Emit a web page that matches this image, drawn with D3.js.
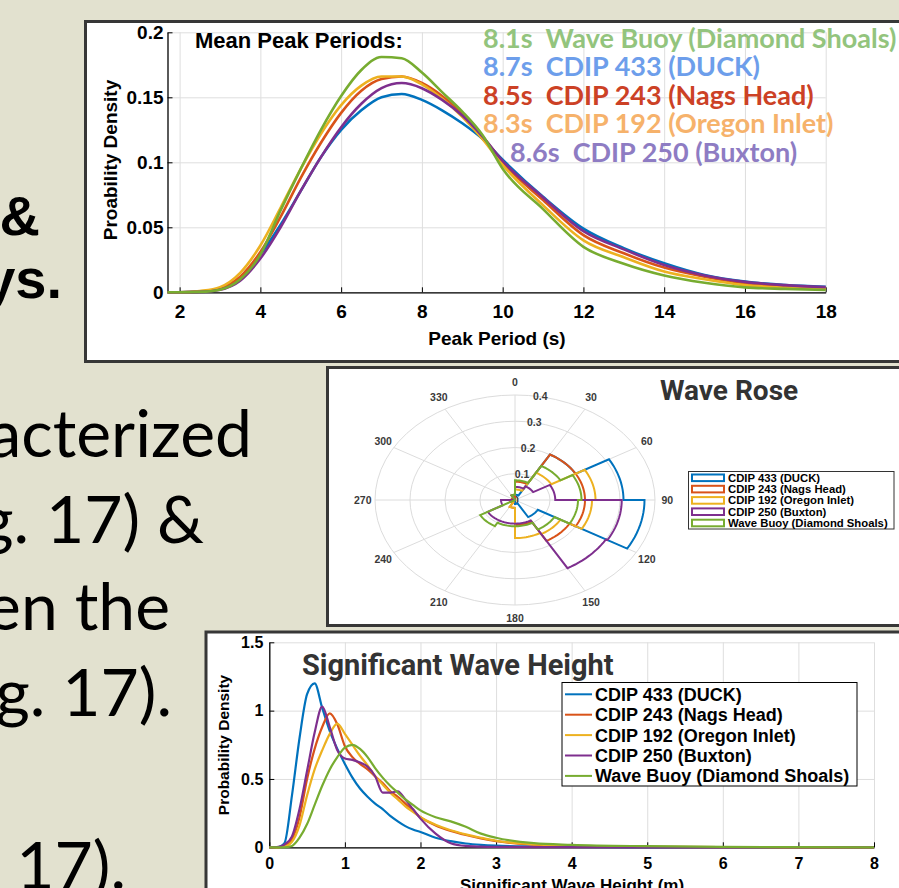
<!DOCTYPE html>
<html lang="en">
<head>
<meta charset="UTF-8">
<title>Peak Period, Wave Rose and Significant Wave Height</title>
<script src="https://d3js.org/d3.v7.min.js"></script>
<style>
  body { margin: 0; background: #e2e1cf; }
  svg { display: block; }
  text { font-family: "Liberation Sans", Arial, sans-serif; }
</style>
</head>
<body>
<svg width="899" height="888"></svg>
<script>
// ---------- data ----------
const stationNames = ["CDIP 433 (DUCK)", "CDIP 243 (Nags Head)", "CDIP 192 (Oregon Inlet)", "CDIP 250 (Buxton)", "Wave Buoy (Diamond Shoals)"];
const lineColors = ["#0072BD", "#D95319", "#EDB120", "#7E2F8E", "#77AC30"];

// peak period pdf (top chart)
const periodX      = [1.7, 2, 2.5, 3, 3.5, 4, 4.5, 5, 5.5, 6, 6.5, 7, 7.5, 8, 8.5, 9, 9.5, 10, 11, 12, 13, 14, 15, 16, 17, 18];
const periodDuck   = [0, 0, 0.0005, 0.003, 0.010, 0.029, 0.052, 0.078, 0.104, 0.125, 0.140, 0.150, 0.1525, 0.148, 0.140, 0.130, 0.118, 0.102, 0.0735, 0.049, 0.034, 0.0223, 0.0133, 0.0082, 0.0056, 0.0043];
const periodNags   = [0, 0, 0.0005, 0.003, 0.012, 0.031, 0.058, 0.088, 0.115, 0.138, 0.155, 0.164, 0.166, 0.161, 0.151, 0.137, 0.120, 0.100, 0.071, 0.044, 0.030, 0.019, 0.012, 0.007, 0.0045, 0.003];
const periodOregon = [0, 0, 0.001, 0.004, 0.015, 0.036, 0.065, 0.095, 0.122, 0.144, 0.159, 0.166, 0.166, 0.160, 0.149, 0.135, 0.118, 0.098, 0.067, 0.040, 0.027, 0.016, 0.010, 0.0055, 0.0035, 0.0025];
const periodBuxton = [0, 0, 0.0003, 0.002, 0.009, 0.026, 0.050, 0.078, 0.104, 0.127, 0.145, 0.157, 0.161, 0.157, 0.148, 0.136, 0.120, 0.101, 0.073, 0.047, 0.033, 0.021, 0.013, 0.008, 0.0055, 0.004];
const periodBuoy   = [0, 0, 0.0003, 0.002, 0.010, 0.029, 0.063, 0.095, 0.125, 0.151, 0.171, 0.181, 0.180, 0.169, 0.154, 0.139, 0.121, 0.095, 0.064, 0.035, 0.022, 0.013, 0.0074, 0.0038, 0.0026, 0.0018];
const periodTicksX = [2, 4, 6, 8, 10, 12, 14, 16, 18];
const periodTicksY = [0, 0.05, 0.1, 0.15, 0.2];

// mean peak period notes
const meanLabels = ["8.1s  Wave Buoy (Diamond Shoals)", "8.7s  CDIP 433 (DUCK)", "8.5s  CDIP 243 (Nags Head)", "8.3s  CDIP 192 (Oregon Inlet)", "8.6s  CDIP 250 (Buxton)"];
const meanColors = ["#93c47d", "#6d9eeb", "#cc4125", "#f6b26b", "#8e7cc3"];

// wave rose, 30 degree bins starting at 0
const roseBins   = [0, 30, 60, 90, 120, 150, 180, 210, 240, 270, 300, 330];
const roseDuck   = [0.02, 0.20, 0.31, 0.37, 0.075, 0.015, 0.005, 0.004, 0.003, 0.003, 0.003, 0.005];
const roseNags   = [0.07, 0.20, 0.20, 0.20, 0.18, 0.095, 0.03, 0.01, 0.015, 0.01, 0.005, 0.01];
const roseOregon = [0.04, 0.12, 0.23, 0.22, 0.15, 0.145, 0.03, 0.01, 0.005, 0.005, 0.005, 0.02];
const roseBuxton = [0.05, 0.06, 0.115, 0.305, 0.30, 0.09, 0.09, 0.09, 0.04, 0.005, 0.005, 0.02];
const roseBuoy   = [0.075, 0.15, 0.19, 0.18, 0.13, 0.10, 0.10, 0.115, 0, 0, 0, 0.02];
const roseRings  = [0.1, 0.2, 0.3, 0.4];

// significant wave height pdf (bottom chart)
const hsX      = [0, 0.1, 0.2, 0.3, 0.4, 0.5, 0.6, 0.7, 0.8, 0.9, 1.0, 1.1, 1.2, 1.3, 1.4, 1.5, 1.6, 1.7, 1.8, 1.9, 2.0, 2.2, 2.4, 2.6, 2.8, 3.0, 3.5, 4, 5, 6, 7, 8];
const hsDuck   = [0, 0, 0.03, 0.38, 0.80, 1.12, 1.20, 1.02, 0.85, 0.72, 0.61, 0.51, 0.43, 0.37, 0.32, 0.28, 0.23, 0.19, 0.155, 0.13, 0.112, 0.07, 0.045, 0.028, 0.018, 0.012, 0.006, 0.003, 0.001, 0, 0, 0];
const hsNags   = [0, 0, 0.01, 0.06, 0.22, 0.50, 0.72, 0.88, 0.98, 0.90, 0.74, 0.66, 0.61, 0.57, 0.52, 0.47, 0.41, 0.37, 0.32, 0.27, 0.22, 0.16, 0.12, 0.09, 0.065, 0.045, 0.02, 0.01, 0.003, 0.001, 0, 0];
const hsOregon = [0, 0, 0.005, 0.04, 0.16, 0.38, 0.57, 0.71, 0.83, 0.905, 0.83, 0.75, 0.67, 0.60, 0.52, 0.46, 0.40, 0.35, 0.30, 0.26, 0.22, 0.165, 0.125, 0.095, 0.07, 0.048, 0.022, 0.011, 0.003, 0.001, 0, 0];
const hsBuxton = [0, 0.002, 0.02, 0.08, 0.28, 0.56, 0.84, 1.03, 0.88, 0.71, 0.65, 0.64, 0.62, 0.59, 0.52, 0.40, 0.40, 0.41, 0.35, 0.28, 0.21, 0.10, 0.03, 0.01, 0.005, 0.003, 0.002, 0.001, 0, 0, 0, 0];
const hsBuoy   = [0, 0, 0, 0.01, 0.07, 0.17, 0.31, 0.45, 0.57, 0.66, 0.73, 0.75, 0.72, 0.66, 0.58, 0.51, 0.45, 0.40, 0.35, 0.31, 0.27, 0.22, 0.19, 0.15, 0.10, 0.07, 0.03, 0.018, 0.008, 0.003, 0.001, 0];
const hsTicksX = [0, 1, 2, 3, 4, 5, 6, 7, 8];
const hsTicksY = [0, 0.5, 1, 1.5];

const svg = d3.select("svg");
svg.append("rect").attr("width", 899).attr("height", 888).attr("fill", "#e2e1cf");

// ---------- slide text on the left (cut off) ----------
const boldLines = [["&", 40, 235], ["ys.", 62, 298]];
svg.selectAll(".boldline").data(boldLines).enter().append("text")
  .attr("x", d => d[1]).attr("y", d => d[2])
  .attr("text-anchor", "end")
  .style("font-size", "56px").style("font-weight", "bold")
  .text(d => d[0]);

const bodyLines = [["acterized", 252, 457], ["g. 17) &", 204, 543], ["en the", 170, 630], ["g. 17).", 172, 716], ["17).", 126, 889]];
svg.selectAll(".bodyline").data(bodyLines).enter().append("text")
  .attr("x", d => d[1]).attr("y", d => d[2])
  .attr("text-anchor", "end")
  .style("font-family", "Lato, 'Open Sans', sans-serif")
  .style("font-size", "66px")
  .text(d => d[0]);

// panel helper
function panel(x, y, w, h) {
  svg.append("rect").attr("x", x).attr("y", y).attr("width", w).attr("height", h)
    .attr("fill", "white").attr("stroke", "#373737").attr("stroke-width", 3);
}

// grid + inward axes for the two line charts
function drawAxes(g, x, y, tx, ty, fs, padX, padY) {
  const [x0, x1] = x.range();
  const [y0, y1] = y.range();
  g.append("g").attr("transform", `translate(0,${y0})`)
    .call(d3.axisBottom(x).tickValues(tx).tickSize(-(y0 - y1)).tickFormat(""))
    .call(a => a.select(".domain").remove())
    .selectAll("line").attr("stroke", "#dedede");
  g.append("g").attr("transform", `translate(${x0},0)`)
    .call(d3.axisLeft(y).tickValues(ty).tickSize(-(x1 - x0)).tickFormat(""))
    .call(a => a.select(".domain").remove())
    .selectAll("line").attr("stroke", "#dedede");

  const bx = g.append("g").attr("transform", `translate(0,${y0})`)
    .call(d3.axisBottom(x).tickValues(tx).tickSize(-5).tickSizeOuter(0).tickPadding(padX).tickFormat(d => String(d)));
  const by = g.append("g").attr("transform", `translate(${x0},0)`)
    .call(d3.axisLeft(y).tickValues(ty).tickSize(-5).tickSizeOuter(0).tickPadding(padY).tickFormat(d => String(d)));
  [bx, by].forEach(a => {
    a.select(".domain").attr("stroke", "#000").attr("stroke-width", 1.3);
    a.selectAll("text").attr("fill", "#000")
      .style("font-size", fs + "px").style("font-weight", "bold")
      .style("font-family", "'Liberation Sans', Arial, sans-serif");
  });
}

// ---------- top: peak period ----------
panel(85.5, 21.5, 900, 340);
const gTop = svg.append("g");
const xP = d3.scaleLinear().domain([1.7, 18]).range([167.5, 825.7]);
const yP = d3.scaleLinear().domain([0, 0.2]).range([292.3, 32.3]);
drawAxes(gTop, xP, yP, periodTicksX, periodTicksY, 19, 12, 4);

const periodSeries = [periodDuck, periodNags, periodOregon, periodBuxton, periodBuoy];
const lineP = d3.line().x((d, i) => xP(periodX[i])).y(d => yP(d)).curve(d3.curveMonotoneX);
gTop.selectAll(".pline").data(periodSeries).enter().append("path")
  .attr("fill", "none").attr("stroke", (d, i) => lineColors[i]).attr("stroke-width", 2.6)
  .attr("d", lineP);

gTop.append("text").attr("x", 497).attr("y", 345).attr("text-anchor", "middle")
  .style("font-size", "19px").style("font-weight", "bold").text("Peak Period (s)");
gTop.append("text").attr("transform", "translate(117,160) rotate(-90)").attr("text-anchor", "middle")
  .style("font-size", "19px").style("font-weight", "bold").text("Proability Density");

gTop.append("text").attr("x", 195).attr("y", 48)
  .style("font-size", "22px").style("font-weight", "bold").text("Mean Peak Periods:");
const meanX = [483, 483, 483, 483, 510];
const meanY = [48, 76, 104.5, 133, 162];
gTop.selectAll(".mean").data(meanLabels).enter().append("text")
  .attr("x", (d, i) => meanX[i]).attr("y", (d, i) => meanY[i])
  .style("white-space", "pre")
  .style("font-family", "Lato, 'Open Sans', sans-serif")
  .style("font-size", "27px").style("font-weight", "bold")
  .attr("fill", (d, i) => meanColors[i])
  .text(d => d);

// ---------- middle: wave rose ----------
panel(327.5, 367.5, 600, 258);
const gRose = svg.append("g");
const cx = 515, cy = 500;
const rX = d3.scaleLinear().domain([0, 0.4]).range([0, 140]);
const rY = d3.scaleLinear().domain([0, 0.4]).range([0, 105]);
const rad = d => d * Math.PI / 180;
const px = (r, a) => cx + rX(r) * Math.sin(rad(a));
const py = (r, a) => cy - rY(r) * Math.cos(rad(a));

gRose.selectAll(".ring").data(roseRings).enter().append("ellipse")
  .attr("cx", cx).attr("cy", cy).attr("rx", d => rX(d)).attr("ry", d => rY(d))
  .attr("fill", "none").attr("stroke", "#dcdcdc").attr("stroke-width", 1);
const spokes = d3.range(0, 360, 30);
gRose.selectAll(".spoke").data(spokes).enter().append("line")
  .attr("x1", cx).attr("y1", cy).attr("x2", d => px(0.4, d)).attr("y2", d => py(0.4, d))
  .attr("stroke", "#dcdcdc").attr("stroke-width", 1);
gRose.selectAll(".alab").data(spokes).enter().append("text")
  .attr("x", d => px(0.435, d)).attr("y", d => py(0.45, d)).attr("dy", "0.35em")
  .attr("text-anchor", "middle").attr("fill", "#3a3a3a")
  .style("font-size", "10.5px").style("font-weight", "bold").text(d => d);
gRose.selectAll(".rlab").data([0].concat(roseRings)).enter().append("text")
  .attr("x", d => px(d, 10) + 1).attr("y", d => py(d, 10)).attr("dy", "0.35em")
  .attr("text-anchor", "middle").attr("fill", "#3a3a3a")
  .style("font-size", "10.5px").style("font-weight", "bold").text(d => String(d));

const roseSeries = [roseDuck, roseNags, roseOregon, roseBuxton, roseBuoy];
const stairs = vals => {
  const pts = [];
  vals.forEach((r, i) => {
    for (let k = 0; k <= 12; k++) {
      const a = roseBins[i] + k * 30 / 12;
      pts.push([px(r, a), py(r, a)]);
    }
  });
  return d3.line().curve(d3.curveLinearClosed)(pts);
};
gRose.selectAll(".rose").data(roseSeries).enter().append("path")
  .attr("fill", "none").attr("stroke", (d, i) => lineColors[i]).attr("stroke-width", 2)
  .attr("stroke-linejoin", "miter").attr("d", stairs);

gRose.append("text").attr("x", 660).attr("y", 400).attr("fill", "#333")
  .style("font-family", "Roboto, sans-serif").style("font-size", "28px").style("font-weight", "bold")
  .text("Wave Rose");

const roseLeg = gRose.append("g");
roseLeg.append("rect").attr("x", 688.5).attr("y", 471.5).attr("width", 205.5).attr("height", 57.5)
  .attr("fill", "white").attr("stroke", "#333").attr("stroke-width", 1);
const rItem = roseLeg.selectAll(".ri").data(stationNames).enter().append("g")
  .attr("transform", (d, i) => `translate(0,${477.8 + i * 11.3})`);
rItem.append("rect").attr("x", 692).attr("y", -3.3).attr("width", 32).attr("height", 6.6)
  .attr("fill", "white").attr("stroke", (d, i) => lineColors[i]).attr("stroke-width", 2);
rItem.append("text").attr("x", 728).attr("dy", "0.36em")
  .style("font-size", "11.3px").style("font-weight", "bold").text(d => d);

// ---------- bottom: significant wave height ----------
panel(206, 632, 800, 300);
const gBot = svg.append("g");
const xH = d3.scaleLinear().domain([0, 8]).range([269.3, 874]);
const yH = d3.scaleLinear().domain([0, 1.5]).range([847.3, 642.3]);
drawAxes(gBot, xH, yH, hsTicksX, hsTicksY, 16, 10, 6);

const hsSeries = [hsDuck, hsNags, hsOregon, hsBuxton, hsBuoy];
const lineH = d3.line().x((d, i) => xH(hsX[i])).y(d => yH(d)).curve(d3.curveMonotoneX);
gBot.selectAll(".hline").data(hsSeries).enter().append("path")
  .attr("fill", "none").attr("stroke", (d, i) => lineColors[i]).attr("stroke-width", 2.2)
  .attr("d", lineH);

gBot.append("text").attr("x", 302).attr("y", 675).attr("fill", "#333")
  .style("font-family", "Roboto, sans-serif").style("font-size", "29px").style("font-weight", "bold")
  .text("Significant Wave Height");
gBot.append("text").attr("x", 572).attr("y", 891).attr("text-anchor", "middle")
  .style("font-size", "17px").style("font-weight", "bold").text("Significant Wave Height (m)");
gBot.append("text").attr("transform", "translate(229,745) rotate(-90)").attr("text-anchor", "middle")
  .style("font-size", "15.5px").style("font-weight", "bold").text("Probability Density");

const hLeg = gBot.append("g");
hLeg.append("rect").attr("x", 562).attr("y", 682.5).attr("width", 295).attr("height", 103.5)
  .attr("fill", "white").attr("stroke", "#000").attr("stroke-width", 1);
const hItem = hLeg.selectAll(".hi").data(stationNames).enter().append("g")
  .attr("transform", (d, i) => `translate(0,${694.3 + i * 20.4})`);
hItem.append("line").attr("x1", 565).attr("x2", 592)
  .attr("stroke", (d, i) => lineColors[i]).attr("stroke-width", 2);
hItem.append("text").attr("x", 595).attr("dy", "0.36em")
  .style("font-size", "18px").style("font-weight", "bold").text(d => d);
</script>
</body>
</html>
